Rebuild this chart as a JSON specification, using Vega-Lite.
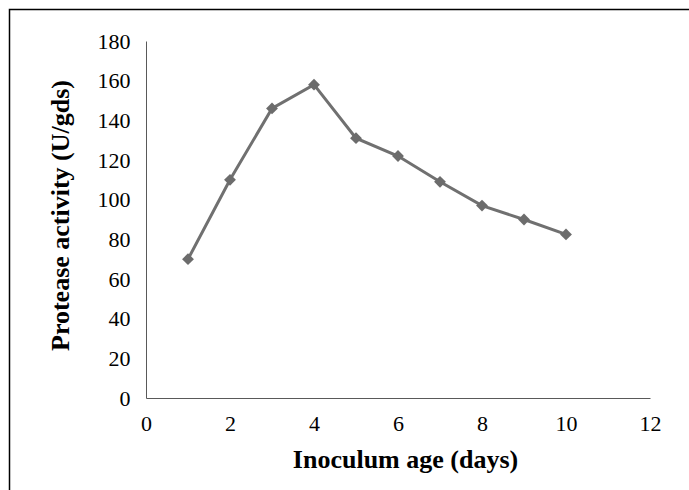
{
  "$schema": "https://vega.github.io/schema/vega-lite/v6.json",
  "width": 504,
  "height": 357,
  "autosize": {"type": "none"},
  "padding": {"left": 146, "top": 41, "right": 39, "bottom": 92},
  "background": "white",
  "config": {
    "view": {"stroke": null},
    "font": "Liberation Serif",
    "axis": {
      "grid": false, "ticks": false, "labelOverlap": false, "labelFlush": false,
      "labelFontSize": 22, "labelColor": "black",
      "titleFontSize": 26, "titleFontWeight": "bold", "titleColor": "black",
      "domainColor": "#595959", "domainWidth": 1
    },
    "axisX": {"labelPadding": 15, "titlePadding": 12, "titleX": 259},
    "axisY": {"labelPadding": 16, "titlePadding": 24, "titleY": 174}
  },
  "layer": [
    {
      "data": {"values": [
        {"day": 1, "activity": 70},
        {"day": 2, "activity": 110},
        {"day": 3, "activity": 146},
        {"day": 4, "activity": 158},
        {"day": 5, "activity": 131},
        {"day": 6, "activity": 122},
        {"day": 7, "activity": 109},
        {"day": 8, "activity": 97},
        {"day": 9, "activity": 90},
        {"day": 10, "activity": 82.5}
      ]},
      "mark": {"type": "line", "color": "#707070", "strokeWidth": 3,
        "point": {"shape": "diamond", "size": 140, "filled": true, "color": "#6c6c6c", "opacity": 1}},
      "encoding": {
        "x": {"field": "day", "type": "quantitative",
          "scale": {"domain": [0, 12], "nice": false},
          "axis": {"title": "Inoculum age (days)", "values": [0, 2, 4, 6, 8, 10, 12]}},
        "y": {"field": "activity", "type": "quantitative",
          "scale": {"domain": [0, 180], "nice": false},
          "axis": {"title": "Protease activity (U/gds)", "values": [0, 20, 40, 60, 80, 100, 120, 140, 160, 180]}}
      }
    },
    {
      "data": {"values": [{"frame": "chart"}]},
      "mark": {"type": "rect", "filled": false, "stroke": "black", "strokeWidth": 1.5},
      "encoding": {
        "x": {"datum": -3.25, "type": "quantitative", "scale": {"domain": [0, 12], "nice": false},
          "axis": {"title": "Inoculum age (days)", "values": [0, 2, 4, 6, 8, 10, 12]}},
        "x2": {"datum": 15},
        "y": {"datum": 195.9, "type": "quantitative", "scale": {"domain": [0, 180], "nice": false},
          "axis": {"title": "Protease activity (U/gds)", "values": [0, 20, 40, 60, 80, 100, 120, 140, 160, 180]}},
        "y2": {"datum": -70}
      }
    }
  ]
}
